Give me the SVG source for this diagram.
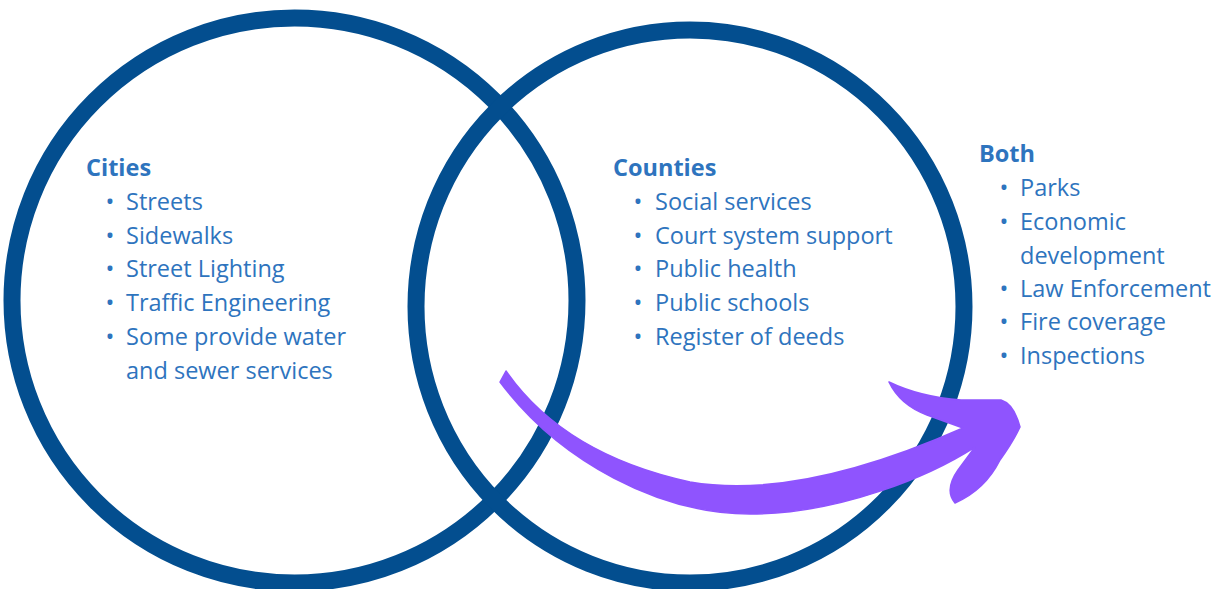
<svg xmlns="http://www.w3.org/2000/svg" width="1219" height="589" viewBox="0 0 1219 589">
<style>
  .ring { fill: none; stroke: #034E8F; stroke-width: 17; }
  .hd { font-family: "Open Sans", "Noto Sans", sans-serif; font-weight: 700; font-size: 23.5px; fill: #2E74BE; }
  .it { font-family: "Open Sans", "Noto Sans", sans-serif; font-weight: 400; font-size: 23.5px; fill: #2E74BE; }
  .arrow { fill: #8F54FE; stroke: #8F54FE; stroke-width: 1.5; stroke-linejoin: round; }
</style>
<rect width="1219" height="589" fill="#FFFFFF"/>
<g id="cities">
  <ellipse class="ring" cx="294.5" cy="300.5" rx="282.5" ry="282.5"/>
  <text class="hd" x="86" y="176">Cities</text>
  <g class="it">
    <text x="105.6" y="210">•</text><text x="126" y="210">Streets</text>
    <text x="105.6" y="244">•</text><text x="126" y="244">Sidewalks</text>
    <text x="105.6" y="277">•</text><text x="126" y="277">Street Lighting</text>
    <text x="105.6" y="311">•</text><text x="126" y="311">Traffic Engineering</text>
    <text x="105.6" y="345">•</text><text x="126" y="345">Some provide water</text>
    <text x="126" y="379">and sewer services</text>
  </g>
</g>
<g id="counties">
  <ellipse class="ring" cx="690" cy="306.5" rx="274" ry="276.5"/>
  <text class="hd" x="613" y="176">Counties</text>
  <g class="it">
    <text x="633.6" y="210">•</text><text x="655" y="210">Social services</text>
    <text x="633.6" y="244">•</text><text x="655" y="244">Court system support</text>
    <text x="633.6" y="277">•</text><text x="655" y="277">Public health</text>
    <text x="633.6" y="311">•</text><text x="655" y="311">Public schools</text>
    <text x="633.6" y="345">•</text><text x="655" y="345">Register of deeds</text>
  </g>
</g>
<g id="both">
  <text class="hd" x="979" y="162">Both</text>
  <g class="it">
    <text x="999.6" y="196">•</text><text x="1020" y="196">Parks</text>
    <text x="999.6" y="230">•</text><text x="1020" y="230">Economic</text>
    <text x="1020" y="264">development</text>
    <text x="999.6" y="297">•</text><text x="1020" y="297">Law Enforcement</text>
    <text x="999.6" y="330">•</text><text x="1020" y="330">Fire coverage</text>
    <text x="999.6" y="364">•</text><text x="1020" y="364">Inspections</text>
  </g>
</g>
<g id="connectors">
  <path class="arrow" d="M506,371 C540,420 598,462 690,482 C760,494 850,478 963,428 L927,415 Q900,405 889,382 Q920,397 961,400 L1001,400 Q1014,404 1020,427 Q1013,442 1000,460 Q985,490 955,503 Q944,490 958,470 L975,447 C930,476 840,514 750,514 C660,514 560,462 500,382 Z"/>
</g>
</svg>
